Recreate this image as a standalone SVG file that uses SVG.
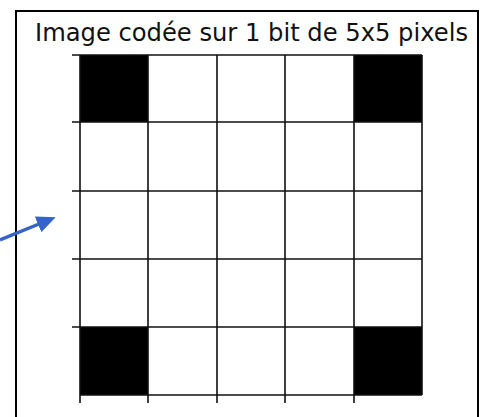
<svg xmlns="http://www.w3.org/2000/svg" width="480" height="417" viewBox="0 0 480 417">
<defs>
<style>
.g{stroke:#111;stroke-width:1.6;fill:none}
.px{fill:#000}
.t{font-family:"DejaVu Sans",sans-serif;font-size:24px;fill:#111}
</style>
<marker id="ah" markerWidth="19" markerHeight="17" refX="1" refY="8.5" orient="auto" markerUnits="userSpaceOnUse">
<path d="M0,0 L19,8.5 L0,17 Z" fill="#3563c9"/>
</marker>
</defs>
<rect width="480" height="417" fill="#fff"/>
<rect id="frame" x="16" y="11" width="462" height="420" fill="#fff" stroke="#000" stroke-width="2"/>
<g id="title"><text class="t" x="251.5" y="41" text-anchor="middle" textLength="433" lengthAdjust="spacingAndGlyphs">Image codée sur 1 bit de 5x5 pixels</text></g>
<g id="pixels">
<rect class="px" x="80" y="55" width="68" height="67"/>
<rect class="px" x="354" y="55" width="68" height="67"/>
<rect class="px" x="80" y="327" width="68" height="68"/>
<rect class="px" x="354" y="327" width="68" height="68"/>
</g>
<g id="grid" class="g">
<path d="M80,55V403 M148,55V403 M217,55V403 M285,55V403 M354,55V403 M422,55V395"/>
<path d="M72,55H422 M72,122H422 M72,191H422 M72,259H422 M72,327H422 M80,395H422"/>
</g>
<g id="connectors">
<line x1="0" y1="240" x2="39" y2="224" stroke="#3563c9" stroke-width="3.5" marker-end="url(#ah)"/>
</g>
</svg>
